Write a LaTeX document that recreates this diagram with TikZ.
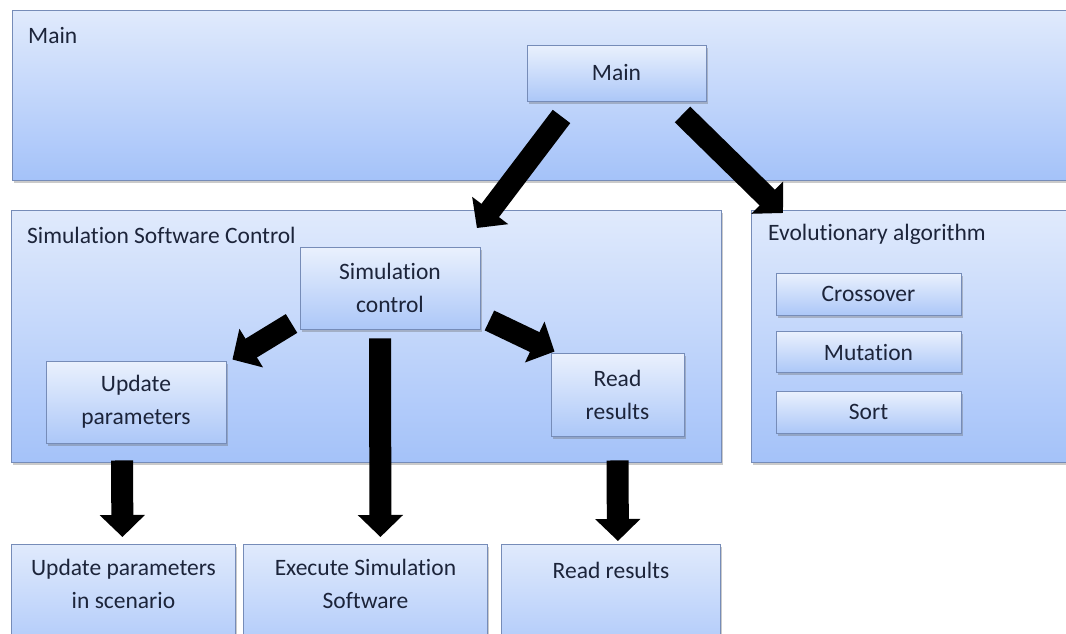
\documentclass[tikz,border=0pt]{standalone}
\usepackage{fontspec}
\setmainfont[Ligatures=NoCommon]{Carlito}
\usetikzlibrary{arrows.meta,shadows,calc}
\definecolor{bord}{RGB}{118,140,184}
\definecolor{bigtop}{RGB}{224,234,252}
\definecolor{bigbot}{RGB}{164,194,249}
\definecolor{smtop}{RGB}{234,241,253}
\definecolor{smbot}{RGB}{172,199,248}
\definecolor{txt}{RGB}{28,36,58}
\begin{document}
\begin{tikzpicture}[x=1pt,y=-1pt,
  font=\fontsize{23.5}{33}\selectfont, text=txt,
  panel/.style={draw=bord, line width=0.9pt, top color=bigtop, bottom color=bigbot,
    anchor=north west, inner sep=0pt,
    drop shadow={shadow xshift=2pt, shadow yshift=-2.5pt, opacity=0.35, fill=black!60}},
  box/.style={draw=bord, line width=0.9pt, top color=smtop, bottom color=smbot,
    inner sep=0pt, align=center,
    drop shadow={shadow xshift=2pt, shadow yshift=-2.5pt, opacity=0.35, fill=black!60}},
  plabel/.style={anchor=west, inner sep=0pt},
  tlabel/.style={align=center, inner sep=0pt},
  bigarrow/.style={line width=22pt, draw=black, -{Triangle[width=44pt,length=22pt]}}
]
\begin{scope}
\clip (0,0) rectangle (1066,633);
% outer panels
\node[panel, minimum width=1070, minimum height=170] (mainout) at (12,10) {};
\node[plabel] (lmain) at (28,35) {Main};
\node[panel, minimum width=710, minimum height=252] (simout) at (11,210) {};
\node[plabel] (lsim) at (27,235) {Simulation Software Control};
\node[panel, minimum width=330, minimum height=252] (evoout) at (751,210) {};
\node[plabel] (levo) at (768,234) {Evolutionary algorithm};
% inner boxes
\node[box, minimum width=179, minimum height=56] (mainin) at (616.5,73) {\raisebox{2pt}{Main}};
\node[box, minimum width=180, minimum height=82] (simctl) at (390,288) {Simulation\\control};
\node[box, minimum width=180, minimum height=82] (upd) at (136,402) {Update\\parameters};
\node[box, minimum width=133, minimum height=83] (rr) at (617.5,394.5) {Read\\results};
\node[box, minimum width=185, minimum height=42] (cross) at (868.5,294) {\raisebox{-2pt}{Crossover}};
\node[box, minimum width=185, minimum height=41] (mut) at (868.5,352) {\raisebox{-2pt}{Mutation}};
\node[box, minimum width=185, minimum height=42] (sort) at (868.5,412) {\raisebox{-2pt}{Sort}};
% bottom boxes
\node[panel, minimum width=224, minimum height=130] (b1) at (11,544) {};
\node[tlabel] (t1) at ($(b1.north)+(0,40)$) {Update parameters\\in scenario};
\node[panel, minimum width=244, minimum height=130] (b2) at (243,544) {};
\node[tlabel] (t2) at ($(b2.north)+(0,40)$) {Execute Simulation\\Software};
\node[panel, minimum width=219, minimum height=130] (b3) at (501,544) {};
\node[tlabel] (t3) at ($(b3.north)+(0,26)$) {Read results};
% arrows
\draw[bigarrow] ($(mainin.south)+(-55,15)$) -- ($(simout.north east)+(-245,18)$);
\draw[bigarrow] ($(mainin.south)+(66,13)$) -- ($(evoout.north west)+(32,3)$);
\draw[bigarrow] ($(simctl.south west)+(-8,-6)$) -- ($(upd.north east)+(6,-1)$);
\draw[bigarrow] ($(simctl.south east)+(9,-9)$) -- ($(rr.north west)+(4,-1)$);
\draw[bigarrow] ($(simctl.south)+(-10,9)$) -- ($(b2.north)+(15,-7)$);
\draw[bigarrow] ($(upd.south)+(-14,17)$) -- ($(b1.north)+(-1,-7)$);
\draw[bigarrow] ($(rr.south)+(0,24)$) -- ($(b3.north)+(7,-3)$);
\end{scope}
\pgfresetboundingbox
\useasboundingbox (0,0) rectangle (1066,633);
\end{tikzpicture}
\end{document}
